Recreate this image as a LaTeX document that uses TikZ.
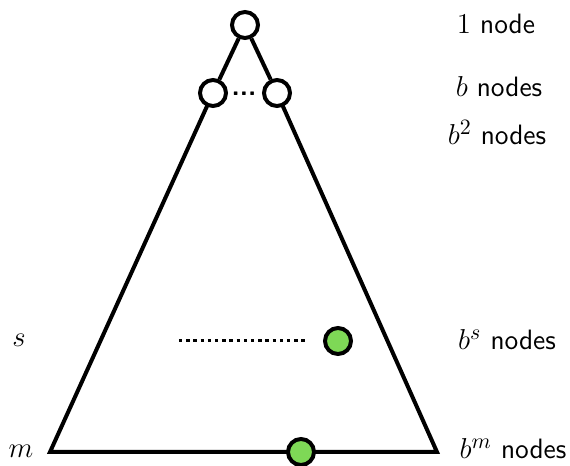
\documentclass[tikz,border=0pt]{standalone}
\usepackage{amsmath}
\usepackage{xcolor}
\usepackage{tikz}
\usetikzlibrary{backgrounds}
\definecolor{leafgreen}{HTML}{7ED856}
\DeclareMathSizes{14}{14}{10.5}{7.5}

\begin{document}
\begin{tikzpicture}[x=0.5pt,y=-0.5pt,
  tnode/.style={circle, draw=black, line width=2pt, fill=white, inner sep=0pt, minimum size=13pt},
  gnode/.style={tnode, fill=leafgreen},
  lbl/.style={anchor=base, font=\fontsize{14}{17}\selectfont\sffamily, inner sep=0pt},
  edge/.style={draw=black, line width=2pt},
  dotline/.style={draw=black, line width=1.5pt, dash pattern=on 1.7pt off 1.9pt}]
  \useasboundingbox (0,0) rectangle (570,466);
  \node[tnode] (R)  at (245,25) {};
  \node[tnode] (B1) at (213,93) {};
  \node[tnode] (B2) at (277,93) {};
  \node[font=\fontsize{13.5}{16}\selectfont\sffamily\bfseries, inner sep=0pt, anchor=base] (BD) at (244,96) {...};
  \coordinate (BL) at (50,452);
  \coordinate (BR) at (437,452);
  \coordinate (SL) at (179,341);
  \node[gnode] (GS) at (338,341) {};
  \node[gnode] (GM) at (301,452) {};
  % level labels
  \node[lbl] (L1) at (496,33)  {$1$ node};
  \node[lbl] (Lb) at (499,97)  {$b$ nodes};
  \node[lbl] (L2) at (497,145) {$b^2$ nodes};
  \node[lbl] (Ls) at (507,350) {$b^s$ nodes};
  \node[lbl] (Lm) at (513,459) {$b^m$ nodes};
  \node[lbl] (S)  at (19,347)  {$s$};
  \node[lbl] (M)  at (21,458)  {$m$};
  \begin{scope}[on background layer]
    \draw[edge] (R) -- (B1);
    \draw[edge] (R) -- (B2);
    \draw[edge] (B1.center) -- (BL) -- (BR) -- (B2.center);
    \draw[dotline, shorten >=8pt] (SL) -- (GS);
  \end{scope}
\end{tikzpicture}
\end{document}
